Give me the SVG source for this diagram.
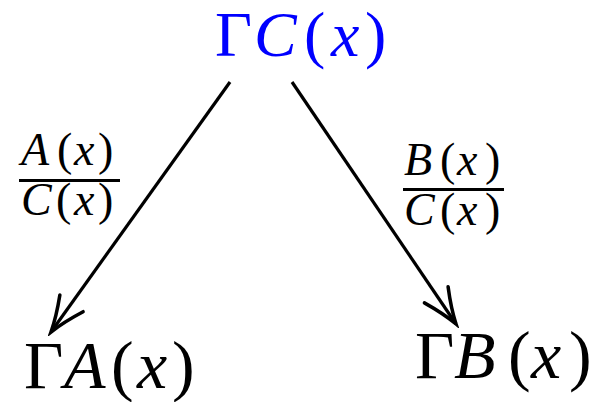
<svg xmlns="http://www.w3.org/2000/svg" width="591" height="402" viewBox="0 0 591 402">
<defs>
<marker id="ah" markerUnits="userSpaceOnUse" markerWidth="44" markerHeight="44" viewBox="-36 -18 40 36" refX="0" refY="0" orient="auto">
<path d="M -32 -13 Q -14 -4 0 0 Q -14 4 -32 13" stroke="#000" stroke-width="3.2" fill="none" stroke-linecap="round"/>
</marker>
</defs>
<rect width="591" height="402" fill="#fff"/>
<g id="connectors" stroke="#000" stroke-width="3.2" fill="none">
<line x1="230" y1="82" x2="51" y2="332" marker-end="url(#ah)"/>
<line x1="292" y1="82" x2="456" y2="324" marker-end="url(#ah)"/>
</g>
<g id="label-left" fill="#000">
<text x="21" y="165" font-family="Liberation Serif" font-style="italic" font-size="46">A</text>
<text x="57" y="165" font-family="Liberation Serif" font-size="46">(</text>
<text x="74" y="165" font-family="Liberation Serif" font-style="italic" font-size="46">x</text>
<text x="98" y="165" font-family="Liberation Serif" font-size="46">)</text>
<rect x="19" y="179" width="101" height="3"/>
<text x="21" y="215" font-family="Liberation Serif" font-style="italic" font-size="46">C</text>
<text x="56" y="215" font-family="Liberation Serif" font-size="46">(</text>
<text x="74" y="215" font-family="Liberation Serif" font-style="italic" font-size="46">x</text>
<text x="98" y="215" font-family="Liberation Serif" font-size="46">)</text>
</g>
<g id="label-right" fill="#000">
<text x="404" y="175" font-family="Liberation Serif" font-style="italic" font-size="46">B</text>
<text x="440" y="175" font-family="Liberation Serif" font-size="46">(</text>
<text x="457" y="175" font-family="Liberation Serif" font-style="italic" font-size="46">x</text>
<text x="485" y="175" font-family="Liberation Serif" font-size="46">)</text>
<rect x="403" y="188" width="101" height="3"/>
<text x="404" y="225" font-family="Liberation Serif" font-style="italic" font-size="46">C</text>
<text x="440" y="225" font-family="Liberation Serif" font-size="46">(</text>
<text x="457" y="225" font-family="Liberation Serif" font-style="italic" font-size="46">x</text>
<text x="485" y="225" font-family="Liberation Serif" font-size="46">)</text>
</g>
<g id="node-C" fill="#0000ff">
<text x="215" y="56" font-family="Liberation Serif" font-size="64">Γ</text>
<text x="254" y="56" font-family="Liberation Serif" font-style="italic" font-size="64">C</text>
<text x="304" y="56" font-family="Liberation Serif" font-size="64">(</text>
<text x="331" y="56" font-family="Liberation Serif" font-style="italic" font-size="64">x</text>
<text x="365" y="56" font-family="Liberation Serif" font-size="64">)</text>
</g>
<g id="node-A" fill="#000">
<text x="24" y="388" font-family="Liberation Serif" font-size="68">Γ</text>
<text x="64" y="388" font-family="Liberation Serif" font-style="italic" font-size="68">A</text>
<text x="111" y="388" font-family="Liberation Serif" font-size="68">(</text>
<text x="137" y="388" font-family="Liberation Serif" font-style="italic" font-size="68">x</text>
<text x="172" y="388" font-family="Liberation Serif" font-size="68">)</text>
</g>
<g id="node-B" fill="#000">
<text x="415" y="378" font-family="Liberation Serif" font-size="68">Γ</text>
<text x="454" y="378" font-family="Liberation Serif" font-style="italic" font-size="68">B</text>
<text x="508" y="378" font-family="Liberation Serif" font-size="68">(</text>
<text x="531" y="378" font-family="Liberation Serif" font-style="italic" font-size="68">x</text>
<text x="569" y="378" font-family="Liberation Serif" font-size="68">)</text>
</g>
</svg>
